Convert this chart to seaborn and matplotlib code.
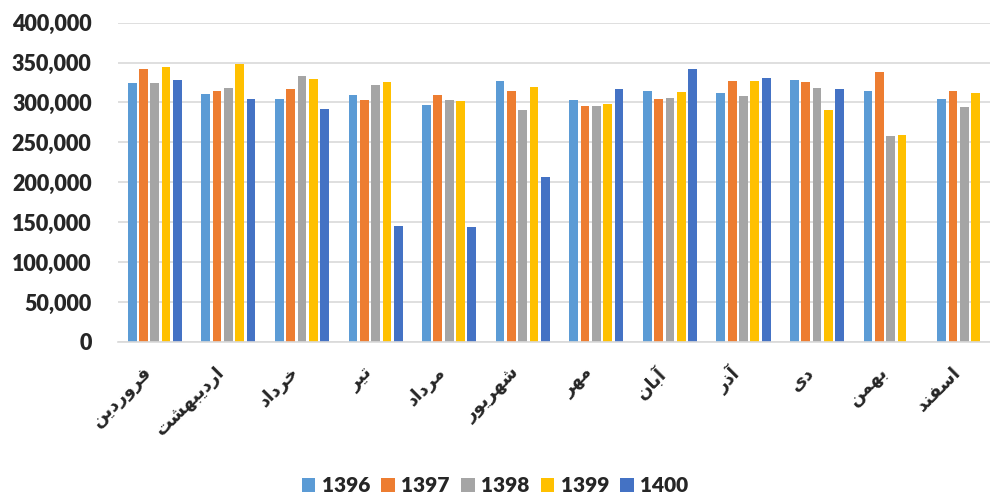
import numpy as np
import pandas as pd
import seaborn as sns
import matplotlib
matplotlib.use('Agg')
import matplotlib.pyplot as plt
from matplotlib.ticker import MultipleLocator, FuncFormatter

months = ['فروردین', 'اردیبهشت', 'خرداد', 'تیر', 'مرداد', 'شهریور',
          'مهر', 'آبان', 'آذر', 'دی', 'بهمن', 'اسفند']
years = ['1396', '1397', '1398', '1399', '1400']
v1396 = [325000, 311000, 305000, 309000, 297000, 327000, 303000, 315000, 312000, 328000, 314000, 304000]
v1397 = [342000, 315000, 317000, 303000, 310000, 315000, 295000, 305000, 327000, 326000, 338000, 315000]
v1398 = [325000, 318000, 333000, 322000, 303000, 291000, 296000, 306000, 308000, 318000, 258000, 294000]
v1399 = [344000, 348000, 329000, 326000, 302000, 320000, 298000, 313000, 327000, 290000, 259000, 312000]
v1400 = [328000, 305000, 292000, 145000, 144000, 207000, 317000, 342000, 331000, 317000, None, None]
colors = ['#5B9BD5', '#ED7D31', '#A5A5A5', '#FFC000', '#4472C4']

# matplotlib has no arabic shaping, so pick the presentation forms by hand
# (isolated, final, initial, medial)
FORMS = {
    '\u0627': ('\uFE8D', '\uFE8E', None, None),
    '\u0622': ('\uFE81', '\uFE82', None, None),
    '\u0628': ('\uFE8F', '\uFE90', '\uFE91', '\uFE92'),
    '\u062A': ('\uFE95', '\uFE96', '\uFE97', '\uFE98'),
    '\u062E': ('\uFEA5', '\uFEA6', '\uFEA7', '\uFEA8'),
    '\u062F': ('\uFEA9', '\uFEAA', None, None),
    '\u0630': ('\uFEAB', '\uFEAC', None, None),
    '\u0631': ('\uFEAD', '\uFEAE', None, None),
    '\u0633': ('\uFEB1', '\uFEB2', '\uFEB3', '\uFEB4'),
    '\u0634': ('\uFEB5', '\uFEB6', '\uFEB7', '\uFEB8'),
    '\u0641': ('\uFED1', '\uFED2', '\uFED3', '\uFED4'),
    '\u0645': ('\uFEE1', '\uFEE2', '\uFEE3', '\uFEE4'),
    '\u0646': ('\uFEE5', '\uFEE6', '\uFEE7', '\uFEE8'),
    '\u0647': ('\uFEE9', '\uFEEA', '\uFEEB', '\uFEEC'),
    '\u0648': ('\uFEED', '\uFEEE', None, None),
    '\u06CC': ('\uFBFC', '\uFBFD', '\uFBFE', '\uFBFF'),
    '\u064A': ('\uFBFC', '\uFBFD', '\uFBFE', '\uFBFF'),
}


def shape_fa(word):
    out = []
    for i, ch in enumerate(word):
        if ch not in FORMS:
            out.append(ch)
            continue
        iso, fin, ini, med = FORMS[ch]
        prev_joins = i > 0 and word[i - 1] in FORMS and FORMS[word[i - 1]][2] is not None
        next_joins = i < len(word) - 1 and ini is not None
        if prev_joins and next_joins:
            out.append(med)
        elif prev_joins:
            out.append(fin)
        elif next_joins:
            out.append(ini)
        else:
            out.append(iso)
    return ''.join(reversed(out))


rows = []
for year, vals in zip(years, [v1396, v1397, v1398, v1399, v1400]):
    for m, v in zip(months, vals):
        if v is not None:
            rows.append({'month': m, 'year': year, 'value': v})
df = pd.DataFrame(rows)

sns.set_style('white')
plt.rcParams['font.family'] = ['Lato', 'DejaVu Sans']

fig = plt.figure(figsize=(9.9, 4.96), dpi=100)
ax = fig.add_axes([0.1192, 0.3105, 0.892, 0.6438])

sns.barplot(data=df, x='month', y='value', hue='year', order=months, hue_order=years,
            palette=colors, width=0.77, gap=0.23, errorbar=None, linewidth=0,
            saturation=1, ax=ax)

ax.set_xlim(-0.5, 11.5)
ax.set_ylim(0, 400000)
ax.yaxis.set_major_locator(MultipleLocator(50000))
ax.yaxis.set_major_formatter(FuncFormatter(lambda v, p: f'{int(v):,}'))
ax.grid(axis='y', color='#D9D9D9', linewidth=1.2)
ax.set_axisbelow(True)
for s in ['top', 'right', 'left']:
    ax.spines[s].set_visible(False)
ax.spines['bottom'].set_color('#D9D9D9')
ax.spines['bottom'].set_linewidth(1.2)

ax.tick_params(axis='y', length=0, pad=19)
for lbl in ax.get_yticklabels():
    lbl.set_fontsize(15.5)
    lbl.set_fontweight('heavy')

ax.set_xticks(range(len(months)))
ax.set_xticklabels([shape_fa(m) for m in months], rotation=45, ha='right', va='top',
                   family=['DejaVu Sans'], fontweight='bold', fontsize=13)
ax.tick_params(axis='x', length=0, pad=15)
ax.set_xlabel('')
ax.set_ylabel('')

handles, labels = ax.get_legend_handles_labels()
ax.get_legend().remove()
fig.legend(handles, labels, loc='center', bbox_to_anchor=(0.5, 1 - 486 / 496), ncol=5,
           frameon=False, prop={'family': 'Lato', 'weight': 'heavy', 'size': 15},
           handlelength=0.65, handleheight=0.65, handletextpad=0.3, columnspacing=0.55)

fig.savefig('out.png', dpi=100)
